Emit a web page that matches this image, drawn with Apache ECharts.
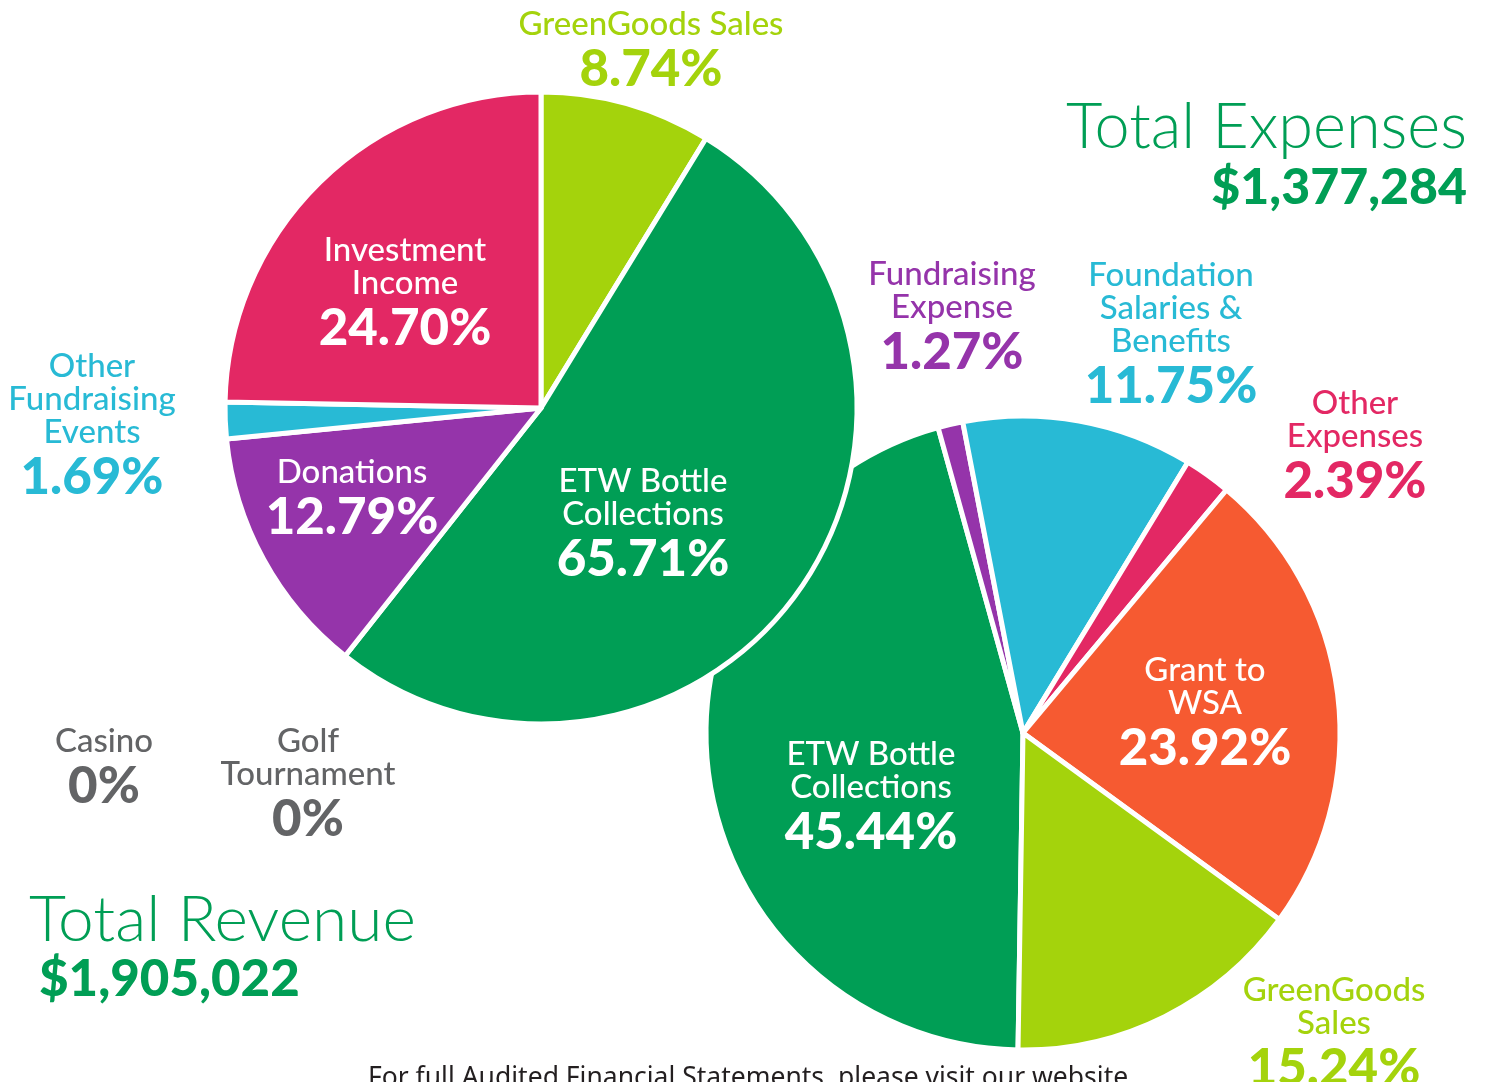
<!DOCTYPE html>
<html>
<head>
<meta charset="utf-8">
<script src="https://cdn.jsdelivr.net/npm/echarts@6/dist/echarts.min.js"></script>
<style>
  html, body { margin: 0; padding: 0; background: #fff; }
  #main { width: 1486px; height: 1082px; }
</style>
</head>
<body>
<div id="main"></div>
<script>
// revenue pie (slices clockwise from 12 o'clock)
const revNames = ['GreenGoods Sales', 'ETW Bottle Collections', 'Donations', 'Other Fundraising Events', 'Investment Income'];
const revShare = [8.74, 51.9, 12.8, 1.86, 24.7];       // drawn slice sizes
const revPct = ['8.74%', '65.71%', '12.79%', '1.69%', '24.70%']; // printed labels
const revZero = ['Casino', 'Golf Tournament'];
const revZeroPct = ['0%', '0%'];

// expense pie (slices clockwise from just past 6 o'clock)
const expNames = ['ETW Bottle Collections', 'Fundraising Expense', 'Foundation Salaries & Benefits', 'Other Expenses', 'Grant to WSA', 'GreenGoods Sales'];
const expShare = [45.44, 1.27, 11.75, 2.39, 23.92, 15.24];
const expPct = ['45.44%', '1.27%', '11.75%', '2.39%', '23.92%', '15.24%'];

const totalRevenue = '$1,905,022';
const totalExpenses = '$1,377,284';

const GREEN = '#009e55', LIME = '#a4d30c', PINK = '#e32864', PURPLE = '#9534aa',
      CYAN = '#28bad5', ORANGE = '#f65a31', GREY = '#636466';

const revColors = [LIME, GREEN, PURPLE, CYAN, PINK];
const expColors = [GREEN, PURPLE, CYAN, PINK, ORANGE, LIME];

// label text: names split into lines, placement and colour
const revLabelLines = [['GreenGoods Sales'], ['ETW Bottle', 'Collections'], ['Donations'], ['Other', 'Fundraising', 'Events'], ['Investment', 'Income']];
const revLabelPos = [[651, 24], [643, 481], [352, 472], [92, 366], [405, 250]];
const revLabelCol = [LIME, '#fff', '#fff', CYAN, '#fff'];

const expLabelLines = [['ETW Bottle', 'Collections'], ['Fundraising', 'Expense'], ['Foundation', 'Salaries &', 'Benefits'], ['Other', 'Expenses'], ['Grant to', 'WSA'], ['GreenGoods', 'Sales']];
const expLabelPos = [[871, 754], [952, 274], [1171, 275], [1355, 403], [1205, 670], [1334, 990]];
const expLabelCol = ['#fff', PURPLE, CYAN, PINK, '#fff', LIME];

const zeroLabelLines = [['Casino'], ['Golf', 'Tournament']];
const zeroLabelPos = [[104, 741], [308, 741]];

const FONT = 'Lato, "Noto Sans", sans-serif';
const LH = 33;

function block(lines, pct, pos, col) {
    const out = lines.map((t, i) => ({
        type: 'text', x: pos[0], y: pos[1] + i * LH, z: 100,
        style: { text: t, fill: col, font: '500 33px ' + FONT, align: 'center', verticalAlign: 'middle' }
    }));
    out.push({
        type: 'text', x: pos[0], y: pos[1] + (lines.length - 1) * LH + 46, z: 100,
        style: { text: pct, fill: col, font: '900 51px ' + FONT, align: 'center', verticalAlign: 'middle' }
    });
    return out;
}

let g = [];
revLabelLines.forEach((l, i) => g = g.concat(block(l, revPct[i], revLabelPos[i], revLabelCol[i])));
expLabelLines.forEach((l, i) => g = g.concat(block(l, expPct[i], expLabelPos[i], expLabelCol[i])));
zeroLabelLines.forEach((l, i) => g = g.concat(block(l, revZeroPct[i], zeroLabelPos[i], GREY)));

g.push(
    { type: 'text', x: 1467, y: 128, style: { text: 'Total Expenses', fill: GREEN, font: '300 63px ' + FONT, align: 'right', verticalAlign: 'middle' } },
    { type: 'text', x: 1467, y: 188, style: { text: totalExpenses, fill: GREEN, font: '900 50px ' + FONT, align: 'right', verticalAlign: 'middle' } },
    { type: 'text', x: 29, y: 920, style: { text: 'Total Revenue', fill: GREEN, font: '300 64px ' + FONT, align: 'left', verticalAlign: 'middle' } },
    { type: 'text', x: 39, y: 980, style: { text: totalRevenue, fill: GREEN, font: '900 51px ' + FONT, align: 'left', verticalAlign: 'middle' } },
    { type: 'text', x: 368, y: 1078, z: 100, style: { text: 'For full Audited Financial Statements, please visit our website', fill: '#231f20', font: '400 26.5px "Noto Sans", sans-serif', align: 'left', verticalAlign: 'middle' } }
);

echarts.init(document.getElementById('main')).setOption({
    animation: false,
    backgroundColor: '#fff',
    series: [
        {
            name: 'Expenses', type: 'pie', z: 1,
            center: [1023, 733], radius: 317, startAngle: 269.1, clockwise: true,
            label: { show: false }, labelLine: { show: false }, emphasis: { disabled: true },
            itemStyle: { borderColor: '#fff', borderWidth: 5 },
            data: expNames.map((n, i) => ({ name: n, value: expShare[i], itemStyle: { color: expColors[i] } }))
        },
        {
            name: 'Revenue', type: 'pie', z: 2,
            center: [541, 408], radius: 316, startAngle: 90, clockwise: true,
            label: { show: false }, labelLine: { show: false }, emphasis: { disabled: true },
            itemStyle: { borderColor: '#fff', borderWidth: 5 },
            data: revNames.map((n, i) => ({ name: n, value: revShare[i], itemStyle: { color: revColors[i] } }))
        }
    ],
    graphic: g
});
</script>
</body>
</html>
